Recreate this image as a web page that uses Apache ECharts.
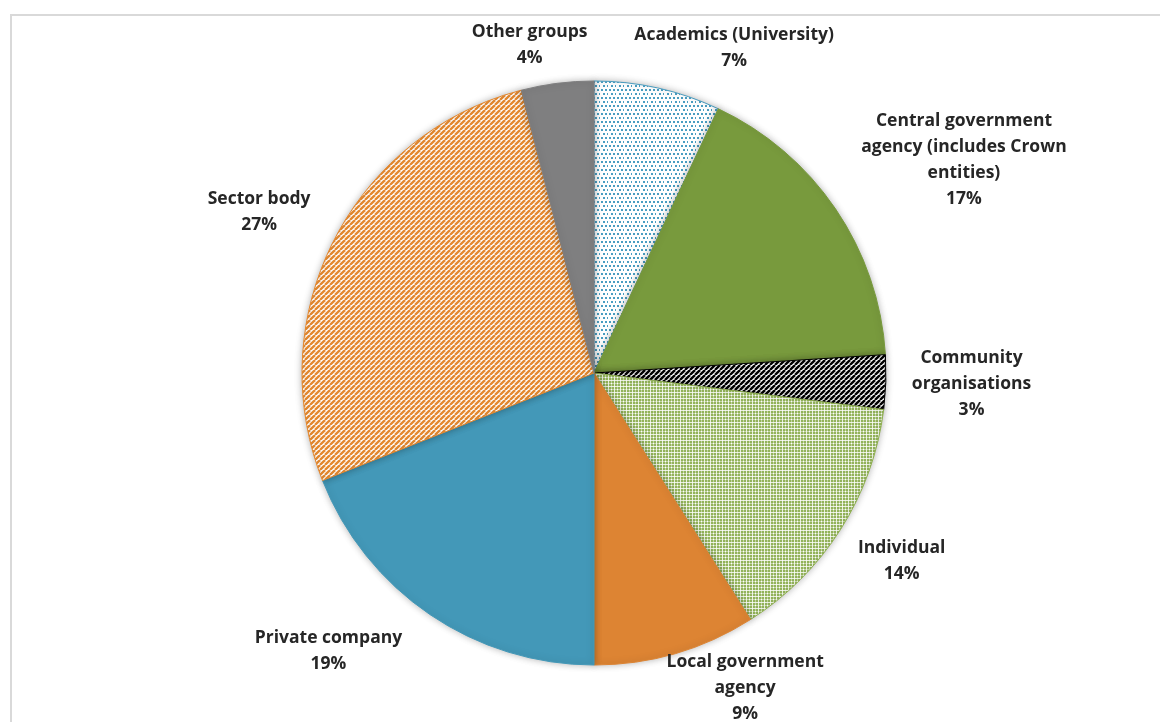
<!DOCTYPE html>
<html>
<head>
<meta charset="utf-8">
<title>Respondent groups</title>
<script src="https://cdn.jsdelivr.net/npm/echarts@6/dist/echarts.min.js"></script>
<style>
  html, body { margin: 0; padding: 0; background: #ffffff; }
  #chart { width: 1160px; height: 722px; }
</style>
</head>
<body>
<div id="chart"></div>
<script>
// Respondent groups and their share of submissions (%)
const groups = [
  'Academics (University)',
  'Central government\nagency (includes Crown\nentities)',
  'Community\norganisations',
  'Individual',
  'Local government\nagency',
  'Private company',
  'Sector body',
  'Other groups'
];
const shares = [7, 17, 3, 14, 9, 19, 27, 4];

// Small offsets that move each label away from its default outside spot
const labelNudge = [
  [68, -2], [42, 10], [14, 0], [10, -1], [55, -16], [-77, 1], [-13, 3], [-23, 0]
];

const CX = 594, CY = 373, R = 292, GAP = 12;

function tile(size, draw) {
  const c = document.createElement('canvas');
  c.width = size; c.height = size;
  const g = c.getContext('2d');
  draw(g, size);
  return { image: c, repeat: 'repeat' };
}

function stripes(color, width, size) {
  return tile(size, (g, s) => {
    g.fillStyle = '#ffffff';
    g.fillRect(0, 0, s, s);
    g.strokeStyle = color;
    g.lineWidth = width;
    for (let k = -s; k <= s; k += s) {
      g.beginPath();
      g.moveTo(k, s);
      g.lineTo(k + s, 0);
      g.stroke();
    }
  });
}

const dotsBlue = tile(8, (g) => {
  g.fillStyle = '#ffffff';
  g.fillRect(0, 0, 8, 8);
  g.fillStyle = '#4a9ec2';
  [[1, 1], [5, 1], [3, 5], [7, 5]].forEach(([x, y]) => g.fillRect(x, y, 2, 2));
});

const gridGreen = tile(6, (g) => {
  g.fillStyle = '#93b35a';
  g.fillRect(0, 0, 6, 6);
  g.fillStyle = 'rgba(255,255,255,0.8)';
  g.fillRect(0, 2, 6, 1);
  g.fillRect(2, 0, 1, 6);
  g.fillStyle = '#ffffff';
  g.fillRect(5, 5, 1, 1);
  g.fillStyle = 'rgba(255,255,255,0.45)';
  g.fillRect(0, 5, 6, 1);
  g.fillRect(5, 0, 1, 6);
});

const fills = [
  dotsBlue,
  '#789a3d',
  stripes('#000000', 2.4, 5),
  gridGreen,
  '#dd8433',
  '#4398b8',
  stripes('#e4882f', 2.3, 5),
  '#7f7f80'
];
const edges = ['#4a9cbf', '#789a3d', '#000000', '#8fb050', '#dd8433', '#4398b8', '#e4882f', '#7f7f80'];

const total = shares.reduce((a, b) => a + b, 0);
const midAngles = [];
{
  let acc = 0;
  shares.forEach(v => {
    midAngles.push(((acc + v / 2) / total) * Math.PI * 2);
    acc += v;
  });
}

const chart = echarts.init(document.getElementById('chart'), null, { renderer: 'canvas' });

chart.setOption({
  animation: false,
  backgroundColor: '#ffffff',
  graphic: [{
    type: 'rect',
    silent: true,
    shape: { x: 11, y: 15, width: 1200, height: 800 },
    style: { fill: 'none', stroke: '#d9d9d9', lineWidth: 2 }
  }],
  series: [{
    type: 'pie',
    center: [CX, CY],
    radius: R,
    startAngle: 90,
    clockwise: true,
    avoidLabelOverlap: false,
    data: groups.map((name, i) => ({
      name: name,
      value: shares[i],
      itemStyle: {
        color: fills[i],
        borderColor: edges[i],
        borderWidth: 1,
        shadowBlur: 7,
        shadowColor: 'rgba(0,0,0,0.28)'
      }
    })),
    label: {
      show: true,
      position: 'outside',
      formatter: p => p.name + '\n' + p.value + '%',
      fontFamily: '"Open Sans", Lato, sans-serif',
      fontWeight: 'bold',
      fontSize: 17.5,
      lineHeight: 26,
      color: '#262626',
      align: 'center'
    },
    labelLine: { show: false },
    labelLayout: function (params) {
      const i = params.dataIndex;
      const a = midAngles[i];
      const dx = Math.sin(a), dy = -Math.cos(a);
      const w = params.labelRect.width, h = params.labelRect.height;
      const ax = CX + (R + GAP) * dx, ay = CY + (R + GAP) * dy;
      const t = Math.min(
        Math.abs(dx) > 1e-6 ? (w / 2) / Math.abs(dx) : Infinity,
        Math.abs(dy) > 1e-6 ? (h / 2) / Math.abs(dy) : Infinity
      );
      return {
        x: ax + t * dx + labelNudge[i][0],
        y: ay + t * dy + labelNudge[i][1],
        align: 'center',
        verticalAlign: 'middle'
      };
    },
    emphasis: { disabled: true }
  }]
});
</script>
</body>
</html>
